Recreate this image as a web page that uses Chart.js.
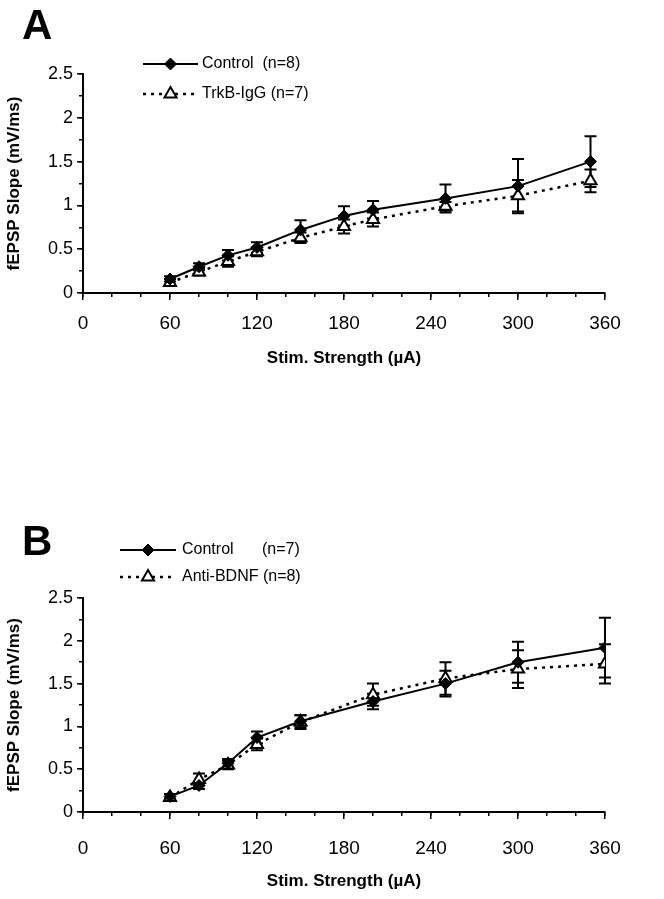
<!DOCTYPE html>
<html><head><meta charset="utf-8">
<script src="https://cdn.jsdelivr.net/npm/chart.js@4.4.1/dist/chart.umd.min.js"></script>
<style>
html,body{margin:0;padding:0;background:#fff;overflow:hidden}
#wrap{position:relative;width:664px;height:899px;background:#fff}
canvas{position:absolute;left:0}
.plab{position:absolute;font-family:"Liberation Sans",Arial,sans-serif;font-weight:bold;font-size:42px;line-height:1;color:#000}
</style></head><body>
<div id="wrap">
<canvas id="cA" style="top:0px" width="664" height="450"></canvas>
<canvas id="cB" style="top:450px" width="664" height="449"></canvas>
<div class="plab" style="left:22px;top:4px">A</div>
<div class="plab" style="left:22px;top:520px">B</div>
</div>
<script>
// ---------- data ----------
const xTickLabels = ['0','60','120','180','240','300','360'];
const yTickLabels = ['0','0.5','1','1.5','2','2.5'];
const xTitle = 'Stim. Strength (\u00b5A)';
const yTitle = 'fEPSP Slope (mV/ms)';

const stimA      = [60, 80, 100, 120, 150, 180, 200, 250, 300, 350];
const controlA   = [0.16, 0.30, 0.43, 0.52, 0.72, 0.88, 0.95, 1.08, 1.22, 1.50];
const controlAErr= [0.03, 0.04, 0.06, 0.06, 0.11, 0.11, 0.10, 0.16, 0.31, 0.29];
const trkbA      = [0.12, 0.24, 0.36, 0.47, 0.63, 0.76, 0.84, 0.99, 1.11, 1.28];
const trkbAErr   = [0.04, 0.04, 0.06, 0.05, 0.06, 0.08, 0.08, 0.05, 0.18, 0.13];
const legendA    = [['Control  (n=8)'], ['TrkB-IgG (n=7)']];

const stimB      = [60, 80, 100, 120, 150, 200, 250, 300, 360];
const controlB   = [0.18, 0.31, 0.57, 0.87, 1.06, 1.29, 1.50, 1.75, 1.92];
const controlBErr= [0.03, 0.04, 0.05, 0.07, 0.07, 0.09, 0.15, 0.24, 0.35];
const antiB      = [0.17, 0.38, 0.55, 0.79, 1.05, 1.37, 1.56, 1.67, 1.73];
const antiBErr   = [0.04, 0.07, 0.05, 0.07, 0.08, 0.13, 0.19, 0.22, 0.23];
const legendB    = [['Control', '(n=7)'], ['Anti-BDNF (n=8)']];

// ---------- plugins ----------
const FONT = '"Liberation Sans", Arial, sans-serif';

const errorBars = {
  id: 'errorBars',
  beforeDatasetsDraw(chart) {
    const {ctx, scales: {x, y}} = chart;
    chart.data.datasets.forEach(ds => {
      if (!ds.errors) return;
      ctx.save();
      ctx.strokeStyle = '#000';
      ctx.lineWidth = 2;
      ds.data.forEach((pt, j) => {
        const e = ds.errors[j];
        const px = x.getPixelForValue(pt.x);
        const yt = y.getPixelForValue(pt.y + e);
        const yb = y.getPixelForValue(pt.y - e);
        ctx.beginPath();
        ctx.moveTo(px, yt); ctx.lineTo(px, yb);
        ctx.moveTo(px - 6, yt); ctx.lineTo(px + 6, yt);
        ctx.moveTo(px - 6, yb); ctx.lineTo(px + 6, yb);
        ctx.stroke();
      });
      ctx.restore();
    });
  }
};

const customLegend = {
  id: 'customLegend',
  afterDraw(chart, args, opts) {
    const ctx = chart.ctx;
    opts.items.forEach((it, i) => {
      const ds = chart.data.datasets[i];
      ctx.save();
      ctx.strokeStyle = '#000';
      ctx.lineWidth = ds.borderWidth;
      ctx.setLineDash(ds.borderDash || []);
      ctx.beginPath(); ctx.moveTo(it.x0, it.y); ctx.lineTo(it.x1, it.y); ctx.stroke();
      ctx.setLineDash([]);
      ctx.fillStyle = ds.pointBackgroundColor;
      ctx.strokeStyle = ds.pointBorderColor;
      ctx.lineWidth = ds.pointBorderWidth;
      Chart.helpers.drawPoint(ctx, {pointStyle: ds.pointStyle, radius: ds.pointRadius, borderWidth: ds.pointBorderWidth, rotation: 0}, (it.x0 + it.x1) / 2, it.y);
      ctx.fillStyle = '#000';
      ctx.font = opts.font;
      ctx.textBaseline = 'middle';
      ctx.textAlign = 'left';
      it.text.forEach((t, k) => ctx.fillText(t, it.tx[k], it.y));
      ctx.restore();
    });
  }
};

function makePanel(id, stim, s1, e1, s2, e2, legendTexts, L) {
  const H = document.getElementById(id).height;
  const datasets = [
    { label: legendTexts[0].join(' '), data: stim.map((s, i) => ({x: s, y: s1[i]})), errors: e1,
      borderColor: '#000', borderWidth: 2, borderDash: [], tension: 0, fill: false,
      pointStyle: 'rectRot', pointRadius: 6, pointBackgroundColor: '#000', pointBorderColor: '#000', pointBorderWidth: 1, order: 1 },
    { label: legendTexts[1].join(' '), data: stim.map((s, i) => ({x: s, y: s2[i]})), errors: e2,
      borderColor: '#000', borderWidth: 2.5, borderDash: [3, 5], tension: 0, fill: false,
      pointStyle: 'triangle', pointRadius: 7, pointBackgroundColor: '#fff', pointBorderColor: '#000', pointBorderWidth: 2, order: 2 }
  ];
  const items = legendTexts.map((t, i) => ({x0: L.lx0, x1: L.lx1, y: L.ly[i], text: t, tx: L.tx[i]}));
  return new Chart(document.getElementById(id), {
    type: 'line',
    data: { datasets },
    plugins: [errorBars, customLegend],
    options: {
      responsive: false, animation: false, events: [],
      layout: { padding: { left: 0, top: L.top, right: 664 - L.right, bottom: H - L.axisBottom } },
      plugins: {
        legend: { display: false }, tooltip: { enabled: false },
        customLegend: { items, font: '16px ' + FONT }
      },
      scales: {
        x: {
          type: 'linear', position: 'bottom', min: 0, max: 360,
          afterFit: s => { s.height = L.axisBottom - L.bottom; },
          ticks: { stepSize: 60, color: '#000', font: { family: FONT, size: 19 }, padding: L.xpad,
                   callback: v => xTickLabels[Math.round(v / 60)] },
          grid: { drawOnChartArea: false, tickLength: 7, color: '#000', lineWidth: 1.5 },
          border: { color: '#000', width: 2 },
          title: { display: true, text: xTitle, color: '#000', font: { family: FONT, size: 17, weight: 'bold' }, padding: { top: 0, bottom: 4 } }
        },
        xMinor: {
          type: 'linear', axis: 'x', position: { y: 0 }, min: 0, max: 360,
          ticks: { stepSize: 20, display: false },
          grid: { drawOnChartArea: false, tickLength: 4, color: '#000', lineWidth: 1.5 },
          border: { display: false }
        },
        y: {
          type: 'linear', position: 'left', min: 0, max: 2.5,
          afterFit: s => { s.width = L.left; },
          ticks: { stepSize: 0.5, color: '#000', font: { family: FONT, size: 18 }, padding: 4,
                   callback: v => yTickLabels[Math.round(v / 0.5)] },
          grid: { drawOnChartArea: false, tickLength: 6, color: '#000', lineWidth: 1.5 },
          border: { color: '#000', width: 2 },
          title: { display: true, text: yTitle, color: '#000', font: { family: FONT, size: 17, weight: 'bold' }, padding: { top: 4, bottom: 0 } }
        },
        yMinor: {
          type: 'linear', axis: 'y', position: { x: 0 }, min: 0, max: 2.5,
          ticks: { stepSize: 0.25, display: false },
          grid: { drawOnChartArea: false, tickLength: 4, color: '#000', lineWidth: 1.5 },
          border: { display: false }
        }
      }
    }
  });
}

makePanel('cA', stimA, controlA, controlAErr, trkbA, trkbAErr, legendA,
  { left: 83, right: 605, top: 74, bottom: 293, axisBottom: 373, xpad: 12,
    lx0: 143, lx1: 198, ly: [64, 94], tx: [[202], [202]] });

makePanel('cB', stimB, controlB, controlBErr, antiB, antiBErr, legendB,
  { left: 83, right: 605, top: 148, bottom: 362, axisBottom: 446, xpad: 18,
    lx0: 120, lx1: 176, ly: [100, 127], tx: [[182, 262], [182]] });
</script>
</body></html>
